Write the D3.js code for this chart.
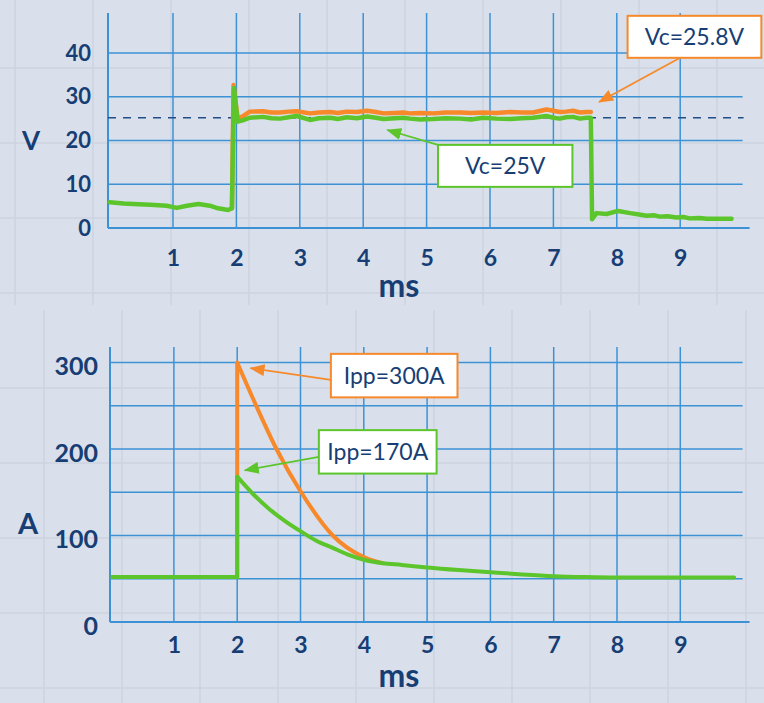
<!DOCTYPE html>
<html>
<head>
<meta charset="utf-8">
<script src="https://cdn.jsdelivr.net/npm/d3@7"></script>
<style>
  body { margin: 0; background: #d9e0eb; }
  svg { display: block; }
  text { font-family: Lato, "Open Sans", sans-serif; fill: #173e74; }
</style>
</head>
<body>
<svg id="chart" width="764" height="703"></svg>
<script>
// ---- voltage panel (V vs ms) ----
// green trace, Vc=25V
const vTime = [0, 0.22, 0.37, 0.64, 0.9, 1.06, 1.22, 1.4, 1.58, 1.71, 1.87, 1.93, 1.96, 2.02, 2.1, 2.21,
    2.42, 2.55, 2.69, 2.82, 2.95, 3.16, 3.3, 3.48, 3.6, 3.74, 3.9, 4.06, 4.2, 4.32, 4.5, 4.63, 4.74, 4.9,
    5.1, 5.3, 5.53, 5.7, 5.89, 6.1, 6.32, 6.5, 6.68, 6.89, 7.0, 7.1, 7.2, 7.31, 7.42, 7.52, 7.59,
    7.61, 7.68, 7.84, 8.02, 8.21, 8.35, 8.47, 8.58, 8.68, 8.8, 8.94, 9.05, 9.15, 9.3, 9.42, 9.6, 9.81];
const vGreen = [5.9, 5.6, 5.5, 5.3, 5.1, 4.6, 5.1, 5.5, 5.1, 4.5, 4.1, 4.5, 32.0, 24.3, 24.6, 25.2,
    25.4, 25.1, 25.0, 25.3, 25.6, 24.7, 25.1, 25.2, 24.9, 25.3, 25.1, 25.5, 25.2, 24.9, 25.1, 25.2, 25.0, 24.8,
    24.9, 25.1, 25.0, 24.8, 25.2, 25.0, 24.9, 25.1, 25.2, 25.6, 25.2, 25.0, 25.3, 25.4, 25.0, 25.2, 25.2,
    2.0, 3.4, 3.2, 3.9, 3.4, 3.1, 2.8, 2.9, 2.6, 2.7, 2.4, 2.5, 2.2, 2.3, 2.1, 2.1, 2.1];
// orange trace, Vc=25.8V (only visible while the pulse is on)
const vOrangeTime = [1.93, 1.955, 2.02, 2.1, 2.21, 2.42, 2.55, 2.69, 2.82, 2.95, 3.16, 3.3, 3.48, 3.6,
    3.74, 3.9, 4.06, 4.2, 4.32, 4.5, 4.63, 4.74, 4.9, 5.1, 5.3, 5.53, 5.7, 5.89, 6.1, 6.32, 6.5, 6.68,
    6.89, 7.0, 7.1, 7.2, 7.31, 7.42, 7.52, 7.59];
const vOrange = [4.5, 32.7, 25.0, 25.5, 26.6, 26.7, 26.4, 26.4, 26.6, 26.7, 26.2, 26.4, 26.5, 26.3,
    26.6, 26.5, 26.8, 26.5, 26.2, 26.3, 26.4, 26.2, 26.3, 26.2, 26.4, 26.4, 26.3, 26.4, 26.3, 26.5, 26.4, 26.4,
    27.1, 26.8, 26.5, 26.6, 26.8, 26.4, 26.5, 26.5];
const vRef = 25.2;
const vTicks = [0, 10, 20, 30, 40];
const msTicks = [1, 2, 3, 4, 5, 6, 7, 8, 9];

// ---- current panel (A vs ms) ----
const iBaseTime = [0, 2];
const iBase = 52;
const iGreenTime = [2.0, 2.25, 2.5, 2.75, 3.0, 3.25, 3.5, 3.75, 4.0, 4.3, 4.6, 5.0, 5.5, 6.0, 6.5, 7.0, 7.5, 8.0, 8.5, 9.0, 9.5, 9.85];
const iGreen = [168, 148, 131, 117, 105, 94, 86, 78, 72, 68, 66, 63, 60, 57.5, 55, 53, 52, 51.5, 51.5, 51.5, 51.5, 51.5];
const iOrangeTime = [2.0, 2.3, 2.62, 3.01, 3.51, 4.0, 4.3];
const iOrange = [300, 250, 200, 150, 100, 75, 68];
const iTicks = [0, 100, 200, 300];
const iGrid = [50, 100, 150, 200, 250, 300];

const notesV = [
    {text: "Vc=25.8V", color: "orange", box: [8.17, 48.5, 10.28, 38.9], tail: [9.0, 38.9], tip: [7.72, 28.8]},
    {text: "Vc=25V", color: "green", box: [5.18, 19.0, 7.30, 9.4], tail: [5.18, 19.0], tip: [4.38, 22.4]}
];
const notesI = [
    {text: "Ipp=300A", color: "orange", box: [3.48, 310, 5.48, 259.7], tail: [3.48, 280], tip: [2.21, 293.4]},
    {text: "Ipp=170A", color: "green", box: [3.29, 221.8, 5.15, 171.6], tail: [3.29, 190.8], tip: [2.12, 175.4]}
];

const colors = {orange: "#f7892a", green: "#5cc52c", grid: "#3d92d6", text: "#173e74"};

const svg = d3.select("#chart");

svg.append("rect").attr("width", 764).attr("height", 703).attr("fill", "#d9e0eb");

// faint texture of the slide background
const tex = svg.append("g").attr("stroke", "#cdd5e1").attr("stroke-width", 1.5);
tex.selectAll(".vt").data(d3.range(15, 764, 78)).join("line")
    .attr("x1", d => d).attr("x2", d => d).attr("y1", 0).attr("y2", 305);
tex.selectAll(".vb").data(d3.range(44, 764, 78)).join("line")
    .attr("x1", d => d).attr("x2", d => d).attr("y1", 310).attr("y2", 703);
tex.selectAll(".ht").data(d3.range(68, 305, 75)).join("line")
    .attr("x1", 0).attr("x2", 764).attr("y1", d => d).attr("y2", d => d);
tex.selectAll(".hb").data(d3.range(388, 703, 75)).join("line")
    .attr("x1", 0).attr("x2", 764).attr("y1", d => d).attr("y2", d => d);

const defs = svg.append("defs");
["orange", "green"].forEach(c => {
    defs.append("marker")
        .attr("id", "arrow-" + c)
        .attr("markerUnits", "userSpaceOnUse")
        .attr("markerWidth", 15).attr("markerHeight", 12)
        .attr("refX", 14).attr("refY", 6)
        .attr("orient", "auto")
        .append("path").attr("d", "M0,0 L15,6 L0,12 Z").attr("fill", colors[c]);
});

function drawPanel(cfg) {
    const g = svg.append("g");
    const x = cfg.x, y = cfg.y;

    // grid
    g.selectAll(".hgrid").data(cfg.hGrid).join("line")
        .attr("x1", cfg.left).attr("x2", x(10) - 1)
        .attr("y1", d => y(d)).attr("y2", d => y(d))
        .attr("stroke", colors.grid).attr("stroke-width", 1.5);
    g.selectAll(".vgrid").data(msTicks).join("line")
        .attr("x1", d => x(d)).attr("x2", d => x(d))
        .attr("y1", cfg.top).attr("y2", y(0))
        .attr("stroke", colors.grid).attr("stroke-width", 1.5);
    // axes lines
    g.append("line").attr("x1", cfg.left).attr("x2", cfg.left)
        .attr("y1", cfg.top).attr("y2", y(0))
        .attr("stroke", colors.grid).attr("stroke-width", 2);
    g.append("line").attr("x1", cfg.left).attr("x2", x(10) + 6)
        .attr("y1", y(0)).attr("y2", y(0))
        .attr("stroke", colors.grid).attr("stroke-width", 2);

    // tick labels
    const yAxis = g.append("g")
        .attr("transform", `translate(${cfg.yLabelX},${cfg.yLabelDy})`)
        .call(d3.axisLeft(y).tickValues(cfg.yTicks).tickSize(0).tickPadding(0));
    yAxis.select(".domain").remove();
    yAxis.selectAll("text")
        .style("font-family", "Lato, sans-serif").style("font-weight", 700)
        .style("font-size", cfg.yFont + "px").attr("fill", colors.text);

    const xAxis = g.append("g")
        .attr("transform", `translate(0,${cfg.xLabelY})`)
        .call(d3.axisBottom(x).tickValues(msTicks).tickSize(0).tickPadding(0));
    xAxis.select(".domain").remove();
    xAxis.selectAll("text")
        .attr("y", 0).attr("dy", "0.35em")
        .style("font-family", "Lato, sans-serif").style("font-weight", 700)
        .style("font-size", "23px").attr("fill", colors.text);

    g.append("text").attr("x", cfg.unitX).attr("y", cfg.unitY)
        .attr("text-anchor", "middle").attr("dy", "0.35em")
        .style("font-weight", 700).style("font-size", cfg.unitFont + "px")
        .text(cfg.unit);
    g.append("text").attr("x", 399).attr("y", cfg.msY)
        .attr("text-anchor", "middle").attr("dy", "0.35em")
        .style("font-weight", 700).style("font-size", "32px")
        .text("ms");
    return g;
}

function drawNotes(g, x, y, notes) {
    notes.forEach(n => {
        g.append("line")
            .attr("x1", x(n.tail[0])).attr("y1", y(n.tail[1]))
            .attr("x2", x(n.tip[0])).attr("y2", y(n.tip[1]))
            .attr("stroke", colors[n.color]).attr("stroke-width", 1.8)
            .attr("marker-end", `url(#arrow-${n.color})`);
        const x0 = x(n.box[0]), x1 = x(n.box[2]), y0 = y(n.box[1]), y1 = y(n.box[3]);
        g.append("rect")
            .attr("x", x0).attr("y", y0).attr("width", x1 - x0).attr("height", y1 - y0)
            .attr("fill", "#ffffff").attr("stroke", colors[n.color]).attr("stroke-width", 2);
        g.append("text")
            .attr("x", (x0 + x1) / 2).attr("y", (y0 + y1) / 2).attr("dy", "0.36em")
            .attr("text-anchor", "middle")
            .style("font-size", "23px").style("font-weight", 400)
            .text(n.text);
    });
}

// ---- top: voltage ----
const xV = d3.scaleLinear().domain([0, 10]).range([109.6, 743.6]);
const yV = d3.scaleLinear().domain([0, 40]).range([228, 53]);
const gV = drawPanel({
    x: xV, y: yV, left: 108, top: 13, hGrid: [10, 20, 30, 40], yTicks: vTicks,
    yLabelX: 91, yLabelDy: 0, yFont: 22, xLabelY: 258,
    unit: "V", unitX: 31, unitY: 141, unitFont: 26, msY: 286
});

gV.append("line")
    .attr("x1", 108).attr("x2", xV(10))
    .attr("y1", yV(vRef)).attr("y2", yV(vRef))
    .attr("stroke", "#1f4f86").attr("stroke-width", 1.6)
    .attr("stroke-dasharray", "8,7");

const lineV = d3.line().x(d => xV(d[0])).y(d => yV(d[1]));
gV.append("path")
    .datum(d3.zip(vOrangeTime, vOrange))
    .attr("d", lineV)
    .attr("fill", "none").attr("stroke", colors.orange).attr("stroke-width", 4.5)
    .attr("stroke-linejoin", "round").attr("stroke-linecap", "round");
gV.append("path")
    .datum(d3.zip(vTime, vGreen))
    .attr("d", lineV)
    .attr("fill", "none").attr("stroke", colors.green).attr("stroke-width", 4.5)
    .attr("stroke-linejoin", "round").attr("stroke-linecap", "round");

drawNotes(gV, xV, yV, notesV);

// ---- bottom: current ----
const xI = d3.scaleLinear().domain([0, 10]).range([110.6, 743.6]);
const yI = d3.scaleLinear().domain([0, 300]).range([622, 362.5]);
const gI = drawPanel({
    x: xI, y: yI, left: 110, top: 347, hGrid: iGrid, yTicks: iTicks,
    yLabelX: 98, yLabelDy: 4, yFont: 25, xLabelY: 645,
    unit: "A", unitX: 28, unitY: 524, unitFont: 29, msY: 676
});

const straight = d3.line().x(d => xI(d[0])).y(d => yI(d[1]));
const smooth = d3.line().x(d => xI(d[0])).y(d => yI(d[1])).curve(d3.curveMonotoneX);

// orange pulse
gI.append("path")
    .datum([[iOrangeTime[0], iBase], [iOrangeTime[0], iOrange[0]]])
    .attr("d", straight)
    .attr("fill", "none").attr("stroke", colors.orange).attr("stroke-width", 4);
gI.append("path")
    .datum(d3.zip(iOrangeTime, iOrange))
    .attr("d", smooth)
    .attr("fill", "none").attr("stroke", colors.orange).attr("stroke-width", 4)
    .attr("stroke-linecap", "round");
// green pulse
gI.append("path")
    .datum([[iBaseTime[0], iBase], [iBaseTime[1], iBase], [iGreenTime[0], iGreen[0]]])
    .attr("d", straight)
    .attr("fill", "none").attr("stroke", colors.green).attr("stroke-width", 4)
    .attr("stroke-linejoin", "miter");
gI.append("path")
    .datum(d3.zip(iGreenTime, iGreen))
    .attr("d", smooth)
    .attr("fill", "none").attr("stroke", colors.green).attr("stroke-width", 4)
    .attr("stroke-linecap", "round");

drawNotes(gI, xI, yI, notesI);
</script>
</body>
</html>
